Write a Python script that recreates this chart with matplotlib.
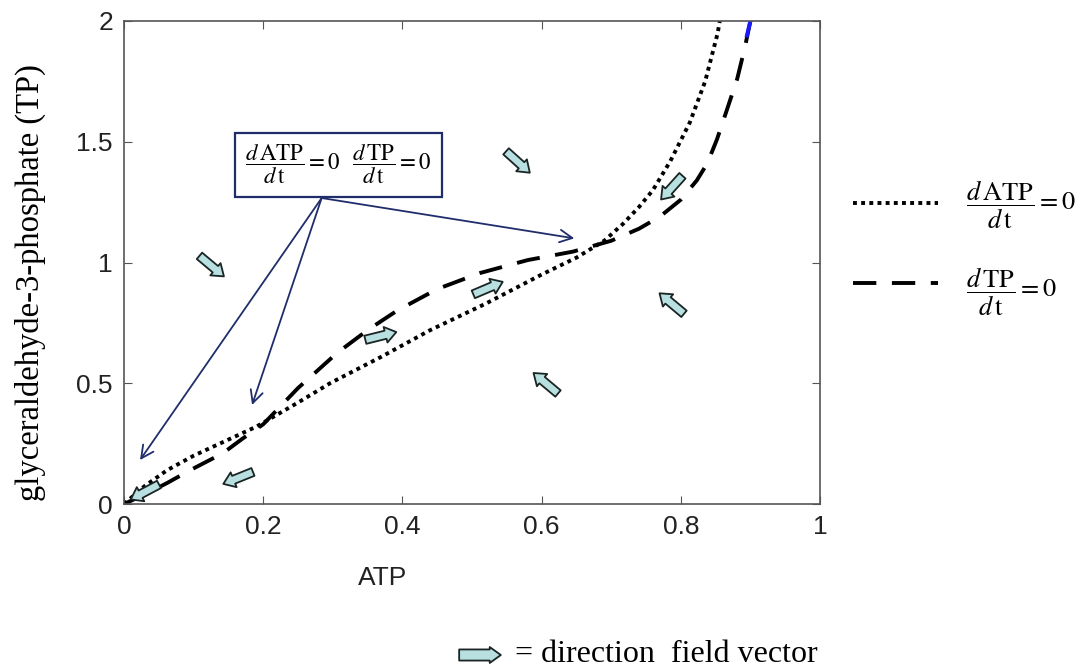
import matplotlib
matplotlib.use("Agg")
import matplotlib.pyplot as plt
from matplotlib.lines import Line2D
from matplotlib.transforms import offset_copy
import numpy as np

plt.rcParams['mathtext.fontset'] = 'stix'

# nullcline dATP/dt = 0 (dotted)
atp_null_x = [0, 0.03, 0.062, 0.1, 0.19, 0.25, 0.296, 0.37, 0.44, 0.52, 0.6, 0.65,
              0.69, 0.717, 0.74, 0.76, 0.785, 0.813, 0.835, 0.853, 0.856]
atp_null_y = [0, 0.075, 0.14, 0.2, 0.32, 0.42, 0.50, 0.61, 0.72, 0.83, 0.95, 1.02,
              1.09, 1.16, 1.23, 1.30, 1.42, 1.58, 1.75, 1.95, 2.0]

# nullcline dTP/dt = 0 (dashed)
tp_null_x = [0, 0.03, 0.062, 0.095, 0.142, 0.17, 0.2, 0.25, 0.306, 0.35, 0.392, 0.45,
             0.511, 0.58, 0.645, 0.7, 0.74, 0.77, 0.8, 0.823, 0.838, 0.852, 0.866,
             0.881, 0.892, 0.9]
tp_null_y = [0, 0.04, 0.087, 0.14, 0.21, 0.27, 0.33, 0.48, 0.625, 0.72, 0.80, 0.89,
             0.956, 1.01, 1.045, 1.09, 1.14, 1.19, 1.26, 1.34, 1.41, 1.51, 1.63,
             1.76, 1.89, 2.0]

# small blue piece at the top of the dashed curve
blue_x = [0.895, 0.9]
blue_y = [1.94, 2.0]

# direction field vectors: centre (ATP, TP) and screen angle in degrees
vec_x = [0.126, 0.566, 0.787, 0.787, 0.606, 0.523, 0.369, 0.164, 0.03]
vec_y = [0.985, 1.416, 1.31, 0.83, 0.50, 0.894, 0.696, 0.108, 0.05]
vec_ang = [-40, -42, 228, 140, 140, 23, 14, 202, 208]

# callout arrow tips
call_x = [0.023, 0.184, 0.647]
call_y = [0.182, 0.41, 1.10]

xticks = [0, 0.2, 0.4, 0.6, 0.8, 1]
yticks = [0, 0.5, 1, 1.5, 2]

navy = '#1f2d6b'
fill = '#b8e0e0'
edge = '#1a2424'
dots = (0, (1, 1.1))
dashes = (0, (6, 4))

fig = plt.figure(figsize=(10.84, 6.69), dpi=100)
ax = fig.add_axes([124 / 1084, 1 - 504 / 669, 696 / 1084, 483 / 669])

ax.plot(atp_null_x, atp_null_y, color='black', lw=2.8, linestyle=dots, dash_capstyle='butt')
ax.plot(tp_null_x, tp_null_y, color='black', lw=2.8, linestyle=dashes, dash_capstyle='butt')
ax.plot(blue_x, blue_y, color='#1a1aff', lw=2.8)

ax.set_xlim(0, 1)
ax.set_ylim(0, 2)
ax.set_xticks(xticks)
ax.set_yticks(yticks)
ax.set_xticklabels(['0', '0.2', '0.4', '0.6', '0.8', '1'])
ax.set_yticklabels(['0', '0.5', '1', '1.5', '2'])
ax.tick_params(direction='in', length=6, top=True, right=True, labelsize=19,
               colors='#555555', labelcolor='#222222', pad=8)
for sp in ax.spines.values():
    sp.set_color('#555555')
    sp.set_linewidth(1.2)
for lab in ax.get_xticklabels() + ax.get_yticklabels():
    lab.set_family('Liberation Sans')

fig.text(383 / 1084, 1 - 578 / 669, 'ATP', fontsize=19, family='Liberation Sans',
         color='#222222', ha='center', va='center')
fig.text(30 / 1084, 1 - 283 / 669, 'glyceraldehyde-3-phosphate (TP)', rotation=90,
         ha='center', va='center', fontsize=23.5, family='Liberation Serif')


def block_arrow(cx, cy, ang, length, coords, tw=0.6):
    hx = 0.5 * length * np.cos(np.radians(ang))
    hy = 0.5 * length * np.sin(np.radians(ang))
    ax.annotate('', xy=(cx, cy), xytext=(cx, cy),
                xycoords=offset_copy(coords, fig=fig, x=hx, y=hy, units='points'),
                textcoords=offset_copy(coords, fig=fig, x=-hx, y=-hy, units='points'),
                arrowprops=dict(arrowstyle='simple,head_length=0.8,head_width=1.15,tail_width=%g' % tw,
                                mutation_scale=10, fc=fill, ec=edge, lw=1.3,
                                shrinkA=0, shrinkB=0),
                annotation_clip=False)


for cx, cy, a in zip(vec_x, vec_y, vec_ang):
    block_arrow(cx, cy, a, 23, ax.transData)

# callout box and arrows
box_x, box_y = 0.284, 1.267
ax.text(0.308, 1.405,
        r'$\dfrac{d\,\mathrm{ATP}}{d\,\mathrm{t}}=0\;\;\;\dfrac{d\,\mathrm{TP}}{d\,\mathrm{t}}=0$',
        fontsize=16.5, ha='center', va='center',
        bbox=dict(boxstyle='square,pad=0.45', fc='white', ec=navy, lw=1.6), zorder=5)
for tx, ty in zip(call_x, call_y):
    ax.annotate('', xy=(tx, ty), xytext=(box_x, box_y),
                arrowprops=dict(arrowstyle='->,head_length=0.9,head_width=0.45', color=navy,
                                lw=1.3, shrinkA=0, shrinkB=0))

# legend drawn by hand at the right side
fig.add_artist(Line2D([853 / 1084, 938 / 1084], [1 - 203 / 669, 1 - 203 / 669],
                      transform=fig.transFigure, color='black', lw=2.8,
                      linestyle=dots, dash_capstyle='butt'))
fig.add_artist(Line2D([853 / 1084, 938 / 1084], [1 - 283 / 669, 1 - 283 / 669],
                      transform=fig.transFigure, color='black', lw=2.8,
                      linestyle=dashes, dash_capstyle='butt'))
fig.text(966 / 1084, 1 - 205 / 669, r'$\dfrac{d\,\mathrm{ATP}}{d\,\mathrm{t}}=0$',
         fontsize=19, ha='left', va='center')
fig.text(966 / 1084, 1 - 292 / 669, r'$\dfrac{d\,\mathrm{TP}}{d\,\mathrm{t}}=0$',
         fontsize=19, ha='left', va='center')

# bottom note
block_arrow(480 / 1084, 14 / 669, 0, 30, fig.transFigure, tw=0.8)
fig.text(515 / 1084, 15 / 669, '= direction  field vector', fontsize=23,
         family='Liberation Serif', ha='left', va='center')

fig.savefig('out.png', dpi=100)
